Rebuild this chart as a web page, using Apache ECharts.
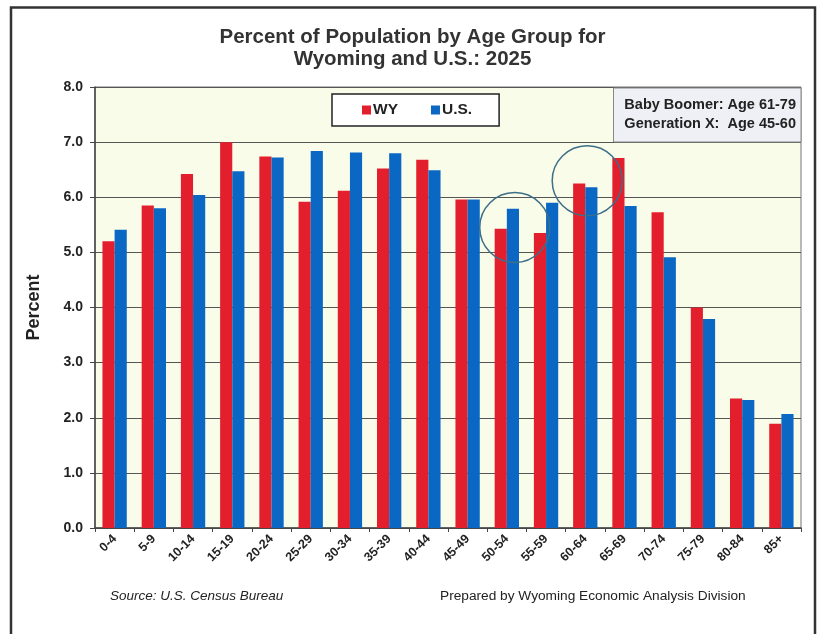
<!DOCTYPE html>
<html>
<head>
<meta charset="utf-8">
<script src="https://cdn.jsdelivr.net/npm/echarts@6/dist/echarts.min.js"></script>
<style>
html,body{margin:0;padding:0;background:#fff;}
#c{width:825px;height:634px;}
</style>
</head>
<body>
<div id="c"></div>
<script>
const categories = ['0-4','5-9','10-14','15-19','20-24','25-29','30-34','35-39','40-44','45-49','50-54','55-59','60-64','65-69','70-74','75-79','80-84','85+'];
const wyValues = [5.2, 5.85, 6.42, 7.0, 6.74, 5.92, 6.12, 6.52, 6.68, 5.96, 5.43, 5.35, 6.25, 6.71, 5.73, 4.0, 2.35, 1.89];
const usValues = [5.41, 5.8, 6.04, 6.47, 6.72, 6.84, 6.81, 6.8, 6.49, 5.96, 5.79, 5.9, 6.18, 5.84, 4.91, 3.79, 2.32, 2.07];
const yTicks = [0, 1, 2, 3, 4, 5, 6, 7, 8];
const seriesNames = ['WY', 'U.S.'];
const titleLines = ['Percent of Population by Age Group for', 'Wyoming and U.S.: 2025'];
const noteLines = ['Baby Boomer: Age 61-79', 'Generation X:  Age 45-60'];
const sourceText = 'Source: U.S. Census Bureau';
const preparedText = 'Prepared by Wyoming Economic Analysis Division';
// circled highlights: [category, value]
const circleMarks = [['50-54', 5.45], ['60-64', 6.30]];

const chart = echarts.init(document.getElementById('c'), null, {renderer: 'canvas'});
const FONT = 'Liberation Sans, Arial, sans-serif';

const option = {
  backgroundColor: '#ffffff',
  animation: false,
  title: {
    text: titleLines.join('\n'),
    left: 'center',
    top: 21,
    textStyle: {fontFamily: FONT, fontSize: 20.5, fontWeight: 'bold', color: '#333', lineHeight: 22}
  },
  legend: {
    data: seriesNames,
    left: 332,
    top: 94,
    orient: 'horizontal',
    icon: 'rect',
    itemWidth: 9,
    itemHeight: 9,
    itemGap: 33,
    padding: [8, 27, 8, 30],
    borderColor: '#222',
    borderWidth: 1.5,
    backgroundColor: '#fff',
    textStyle: {fontFamily: FONT, fontSize: 15.5, fontWeight: 'bold', color: '#222', padding: [0,0,0,-3]}
  },
  grid: {
    left: 95, right: 24, top: 87, bottom: 106,
    show: true, backgroundColor: '#f9fce9', borderColor: '#777', borderWidth: 1
  },
  xAxis: {
    type: 'category',
    data: categories,
    axisLine: {lineStyle: {color: '#444', width: 1.5}},
    axisTick: {show: true, length: 4, lineStyle: {color: '#444'}},
    axisLabel: {rotate: 45, fontFamily: FONT, fontSize: 12.5, fontWeight: 'bold', color: '#222', margin: 9}
  },
  yAxis: {
    type: 'value',
    min: yTicks[0], max: yTicks[yTicks.length - 1], interval: 1,
    name: 'Percent',
    nameLocation: 'middle',
    nameGap: 52,
    nameTextStyle: {fontFamily: FONT, fontSize: 18, fontWeight: 'bold', color: '#222'},
    axisLine: {show: true, lineStyle: {color: '#444', width: 1.5}},
    axisTick: {show: true, length: 5, lineStyle: {color: '#444'}},
    splitLine: {show: true, lineStyle: {color: '#555', width: 1}},
    axisLabel: {formatter: v => v.toFixed(1), fontFamily: FONT, fontSize: 14, fontWeight: 'bold', color: '#222', margin: 12}
  },
  series: [
    {
      name: seriesNames[0], type: 'bar', data: wyValues,
      itemStyle: {color: '#e41f2d'},
      barGap: '0%', barCategoryGap: '38%',
      markPoint: {
        symbol: 'circle',
        symbolSize: 70,
        silent: true,
        label: {show: false},
        itemStyle: {color: 'rgba(0,0,0,0)', borderColor: '#3d6f88', borderWidth: 1.5},
        data: [
          {coord: circleMarks[0], symbolOffset: [14, 0]},
          {coord: circleMarks[1], symbolOffset: [8, 0]}
        ]
      }
    },
    {
      name: seriesNames[1], type: 'bar', data: usValues,
      itemStyle: {color: '#0a67c4'},
      barGap: '0%', barCategoryGap: '38%'
    }
  ],
  graphic: [
    {type: 'rect', left: 8.5, top: 5, shape: {width: 804, height: 640}, style: {fill: 'none', stroke: '#333', lineWidth: 2.5}, silent: true},
    {type: 'rect', left: 613, top: 87.5, shape: {width: 187.5, height: 54}, style: {fill: '#eef0f5', stroke: '#888', lineWidth: 1}, z: 10},
    {type: 'text', right: 29, top: 95, style: {text: noteLines.join('\n'), fontFamily: FONT, fontSize: 14.5, fontWeight: 'bold', fill: '#222', lineHeight: 19, align: 'right'}, z: 11},
    {type: 'text', left: 110, top: 589, style: {text: sourceText, fontFamily: FONT, fontSize: 13.5, fontStyle: 'italic', fill: '#222'}},
    {type: 'text', left: 440, top: 589, style: {text: preparedText, fontFamily: FONT, fontSize: 13.7, fill: '#222'}}
  ]
};
chart.setOption(option);
</script>
</body>
</html>
